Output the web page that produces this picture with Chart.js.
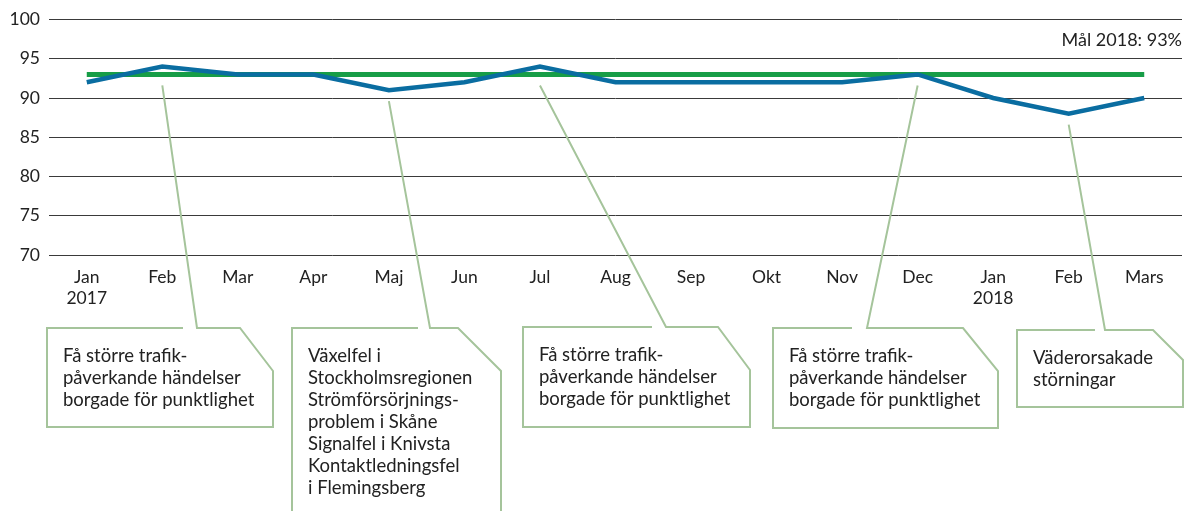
<!DOCTYPE html>
<html>
<head>
<meta charset="utf-8">
<script src="https://cdn.jsdelivr.net/npm/chart.js@4/dist/chart.umd.min.js"></script>
<style>
  html, body { margin: 0; padding: 0; background: #fff; }
  #wrap { width: 1189px; height: 511px; }
</style>
</head>
<body>
<div id="wrap"><canvas id="graf"></canvas></div>
<script>
// data
const months = ['Jan', 'Feb', 'Mar', 'Apr', 'Maj', 'Jun', 'Jul', 'Aug', 'Sep', 'Okt', 'Nov', 'Dec', 'Jan', 'Feb', 'Mars'];
const years = ['2017', '', '', '', '', '', '', '', '', '', '', '', '2018', '', ''];
const punktlighet = [92, 94, 93, 93, 91, 92, 94, 92, 92, 92, 92, 93, 90, 88, 90];
const mal2018 = [93, 93, 93, 93, 93, 93, 93, 93, 93, 93, 93, 93, 93, 93, 93];
const malText = 'Mål 2018: 93%';
const yMin = 70, yMax = 100, yStep = 5;

// callouts: which month they point at and their text
const calloutAt = [1, 4, 6, 11, 13];
const calloutText = [
    ['Få större trafik-', 'påverkande händelser', 'borgade för punktlighet'],
    ['Växelfel i', 'Stockholmsregionen', 'Strömförsörjnings-', 'problem i Skåne', 'Signalfel i Knivsta', 'Kontaktledningsfel', 'i Flemingsberg'],
    ['Få större trafik-', 'påverkande händelser', 'borgade för punktlighet'],
    ['Få större trafik-', 'påverkande händelser', 'borgade för punktlighet'],
    ['Väderorsakade', 'störningar']
];

// box geometry (layout only)
const boxes = [
    {left: 47, top: 328, right: 273, bottom: 427, cx: 33, cy: 43, gapL: 183, gapR: 197},
    {left: 292, top: 328, right: 501, bottom: 520, cx: 43, cy: 43, gapL: 418, gapR: 430},
    {left: 523, top: 327, right: 750, bottom: 427, cx: 32, cy: 43, gapL: 652, gapR: 666},
    {left: 773, top: 328, right: 998, bottom: 428, cx: 35, cy: 43, gapL: 852, gapR: 867},
    {left: 1017, top: 330, right: 1183, bottom: 407, cx: 30, cy: 30, gapL: 1095, gapR: 1105}
];

const FONT = 'Lato, "Open Sans", sans-serif';
const labels = months.map((m, i) => years[i] ? [m, years[i]] : m);

const callouts = {
    id: 'callouts',
    afterDraw(chart) {
        const ctx = chart.ctx;
        const meta = chart.getDatasetMeta(0);
        const yS = chart.scales.y;
        ctx.save();
        ctx.strokeStyle = '#a5c49b';
        ctx.lineWidth = 2;
        calloutAt.forEach((idx, k) => {
            const b = boxes[k];
            const p = meta.data[idx];
            const yTop = Math.max(p.y, yS.getPixelForValue(mal2018[idx])) + 11;
            ctx.beginPath();
            ctx.moveTo(p.x, yTop);
            ctx.lineTo(b.gapR, b.top);
            ctx.lineTo(b.right - b.cx, b.top);
            ctx.lineTo(b.right, b.top + b.cy);
            ctx.lineTo(b.right, b.bottom);
            ctx.lineTo(b.left, b.bottom);
            ctx.lineTo(b.left, b.top);
            ctx.lineTo(b.gapL, b.top);
            ctx.stroke();

            ctx.fillStyle = '#222';
            ctx.font = '18.5px ' + FONT;
            ctx.textBaseline = 'middle';
            ctx.textAlign = 'left';
            calloutText[k].forEach((line, j) => {
                ctx.fillText(line, b.left + 16, b.top + 28 + j * 22);
            });
        });
        // target label
        ctx.fillStyle = '#222';
        ctx.font = '18px ' + FONT;
        ctx.textAlign = 'right';
        ctx.textBaseline = 'middle';
        ctx.fillText(malText, chart.chartArea.right, 40);
        ctx.restore();
    }
};

document.addEventListener('DOMContentLoaded', () => {
    const cont = document.getElementById('graf').getContext('2d');
    new Chart(cont, {
        type: 'line',
        data: {
            labels: labels,
            datasets: [
                {
                    label: 'Punktlighet',
                    data: punktlighet,
                    borderColor: '#0a6da1',
                    borderWidth: 4.5,
                    pointRadius: 0,
                    tension: 0,
                    fill: false
                },
                {
                    label: malText,
                    data: mal2018,
                    borderColor: '#179d47',
                    borderWidth: 5,
                    pointRadius: 0,
                    fill: false
                }
            ]
        },
        options: {
            responsive: true,
            maintainAspectRatio: false,
            animation: false,
            layout: {padding: {top: 18, right: 7, left: 0, bottom: 196}},
            plugins: {legend: {display: false}, tooltip: {enabled: false}},
            scales: {
                x: {
                    offset: true,
                    grid: {display: false, drawTicks: false},
                    border: {display: false},
                    ticks: {
                        color: '#222',
                        font: {family: FONT, size: 17.5},
                        padding: 12,
                        maxRotation: 0,
                        autoSkip: false
                    },
                    afterFit(s) { s.height = 60; }
                },
                y: {
                    min: yMin,
                    max: yMax,
                    grid: {color: '#3a3a3a', lineWidth: 1, drawTicks: false},
                    border: {display: false},
                    ticks: {
                        stepSize: yStep,
                        color: '#222',
                        font: {family: FONT, size: 17.5},
                        padding: 9
                    },
                    afterFit(s) { s.width = 49; }
                }
            }
        },
        plugins: [callouts]
    });
});
</script>
</body>
</html>
